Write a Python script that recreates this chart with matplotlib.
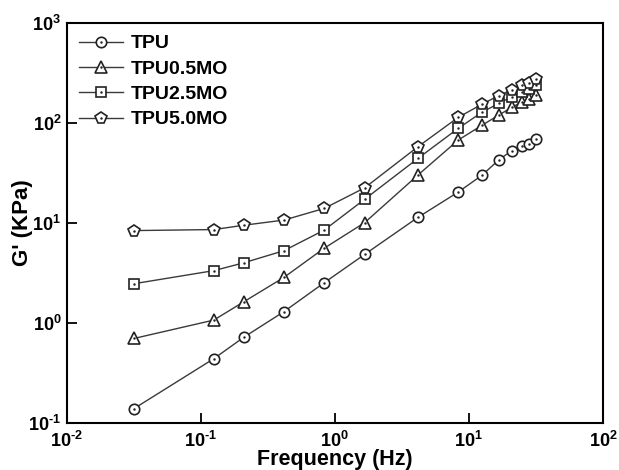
import numpy as np
import matplotlib
matplotlib.use("Agg")
import matplotlib.pyplot as plt
from matplotlib.ticker import FuncFormatter, NullLocator
from matplotlib.legend_handler import HandlerTuple

plt.rcParams['font.family'] = ['Liberation Sans', 'DejaVu Sans']
plt.rcParams['font.weight'] = 'bold'
plt.rcParams['mathtext.fontset'] = 'custom'
plt.rcParams['mathtext.bf'] = 'Liberation Sans:bold'
plt.rcParams['mathtext.rm'] = 'Liberation Sans:bold'

freq = [0.0316, 0.125, 0.209, 0.417, 0.833, 1.67, 4.17, 8.33,
        12.5, 16.7, 20.8, 25.0, 28.0, 31.6]

tpu = [0.139, 0.44, 0.72, 1.30, 2.53, 4.86, 11.4, 20.4,
       30.0, 42.7, 52.8, 58.9, 61.0, 68.7]
tpu05 = [0.70, 1.07, 1.63, 2.86, 5.6, 10.1, 30.2, 67.6,
         94.8, 120, 143, 163, 172, 190]
tpu25 = [2.47, 3.34, 4.0, 5.29, 8.5, 17.3, 44.3, 88.5,
         128, 157, 183, 206, 217, 240]
tpu50 = [8.4, 8.6, 9.5, 10.7, 14.0, 22.5, 58, 114,
         154, 188, 214, 240, 253, 275]

series = [(tpu, 'o', 'TPU'), (tpu05, '^', 'TPU0.5MO'),
          (tpu25, 's', 'TPU2.5MO'), (tpu50, 'p', 'TPU5.0MO')]
sizes = {'o': 7.5, '^': 8.5, 's': 7, 'p': 8.5}

fig = plt.figure(figsize=(6.19, 4.70), dpi=100)
ax = fig.add_axes([0.108, 0.1, 0.866, 0.851])

handles = []
for vals, m, lab in series:
    l1, = ax.plot(freq, vals, color='#3a3a3a', lw=1.0, marker=m,
                  ms=sizes[m], mfc='white', mec='#222222', mew=1.2)
    l2, = ax.plot(freq, vals, ls='none', marker='.', ms=1.5, color='#222222')
    handles.append(((l1, l2), lab))

ax.set_xscale('log')
ax.set_yscale('log')
ax.set_xlim(1e-2, 1e2)
ax.set_ylim(1e-1, 1e3)


def pow10(v, p):
    e = int(round(np.log10(v)))
    if e < 0:
        return r'$\mathbf{10^{\text{-%d}}}$' % -e
    return r'$\mathbf{10^{%d}}$' % e


fmt = FuncFormatter(pow10)
ax.xaxis.set_major_formatter(fmt)
ax.yaxis.set_major_formatter(fmt)
ax.xaxis.set_minor_locator(NullLocator())
ax.yaxis.set_minor_locator(NullLocator())
ax.tick_params(which='major', direction='in', length=7, width=1.3,
               labelsize=13, top=False, right=False)
ax.tick_params(axis='x', pad=6)
ax.tick_params(axis='y', pad=4)
for s in ax.spines.values():
    s.set_linewidth(1.5)

ax.set_xlabel('Frequency (Hz)', fontsize=15.5, fontweight='bold')
ax.set_ylabel("G' (KPa)", fontsize=16, fontweight='bold')
ax.xaxis.set_label_coords(0.5, -0.066)
ax.yaxis.set_label_coords(-0.063, 0.5)

ax.legend([h for h, _ in handles], [l for _, l in handles],
          handler_map={tuple: HandlerTuple(ndivide=1)},
          loc='upper left', frameon=False,
          handlelength=2.3, handletextpad=0.4, labelspacing=0.4,
          borderaxespad=0.2, prop={'weight': 'bold', 'size': 14})

fig.savefig('out.png', dpi=100)
